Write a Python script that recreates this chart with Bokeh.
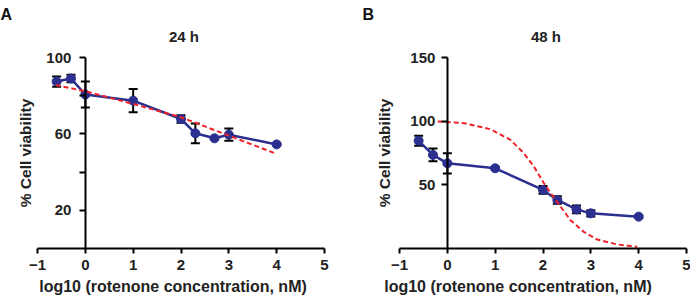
from bokeh.plotting import figure
from bokeh.models import (Range1d, LinearAxis, FixedTicker, ColumnDataSource,
                          Whisker, TeeHead, Label)
from bokeh.layouts import row
from bokeh.embed import file_html
from bokeh.resources import INLINE

# ---------------- data ----------------
log_conc = [-0.6, -0.3, 0, 1, 2, 2.3, 2.7, 3, 4]

viab_24 = [87.4, 89.0, 80.6, 77.4, 67.8, 60.3, 57.7, 59.6, 54.5]
err_24 = [2.7, 2.0, 6.8, 6.1, 2.0, 5.2, 0.8, 3.2, 0.5]
fit_x_24 = [-0.62, 0, 1, 2, 3, 4]
fit_y_24 = [85.6, 82.3, 75.7, 68.7, 59.1, 49.5]

viab_48 = [84.6, 73.5, 66.9, 63.0, 46.0, 38.1, 30.7, 27.6, 25.0]
err_48 = [4.0, 5.0, 8.0, 1.0, 3.0, 3.0, 3.0, 2.5, 1.0]
fit_x_48 = [-0.2, 0.35, 0.9, 1.32, 1.6, 1.81, 2.02, 2.19, 2.37, 2.57, 2.85, 3.13, 3.55, 3.97]
fit_y_48 = [99.8, 98.4, 93.7, 85.3, 74.8, 64.3, 51.2, 42.0, 32.8, 22.4, 13.1, 7.1, 3.2, 1.3]

x_ticks = [-1, 0, 1, 2, 3, 4, 5]
y_ticks_24 = [20, 60, 100]
y_minor_24 = [40, 80]
y_ticks_48 = [50, 100, 150]
y_minor_48 = []

titles = ["24 h", "48 h"]
letters = ["A", "B"]
x_label = "log10 (rotenone concentration, nM)"
y_label = "% Cell viability"

BLUE = "#2B2F8F"
RED = "#EE2229"
FONT = "Liberation Sans"
TXT = "#222222"

W, H = 345, 302
BOTTOM = 54          # px below the x axis line
AX_TOP = 57          # px from top of canvas to the top of the y axis


def style_axis(ax):
    ax.axis_line_width = 2
    ax.axis_line_color = "black"
    ax.major_tick_line_width = 2
    ax.minor_tick_line_width = 2
    ax.major_tick_in = 0
    ax.major_tick_out = 6
    ax.minor_tick_in = 0
    ax.minor_tick_out = 6
    ax.major_label_text_font = FONT
    ax.major_label_text_font_style = "bold"
    ax.major_label_text_font_size = "15px"
    ax.major_label_text_color = TXT
    ax.axis_label_text_font = FONT
    ax.axis_label_text_font_style = "bold"
    ax.axis_label_text_color = TXT


def panel(y, err, fx, fy, ymax, yt, ymin_t, title, letter, left_px, right_px,
          tick_standoff, ylab_standoff):
    xmin, xmax = x_ticks[0], x_ticks[-1]
    # the frame fills the whole figure; axes are bounded to the data region
    ppu_x = (W - left_px - right_px) / (xmax - xmin)
    x0 = xmin - left_px / ppu_x
    x1 = xmax + right_px / ppu_x
    ppu_y = (H - BOTTOM - AX_TOP) / ymax
    y1 = (H - BOTTOM) / ppu_y

    p = figure(width=W, height=H, x_range=Range1d(x0, x1), y_range=Range1d(0, y1),
               output_backend="svg", toolbar_location=None, title=None,
               x_axis_location=None, y_axis_location=None,
               min_border_left=0, min_border_right=0,
               min_border_top=0, min_border_bottom=BOTTOM)
    p.outline_line_color = None
    p.xgrid.visible = False
    p.ygrid.visible = False
    p.background_fill_color = "white"
    p.border_fill_color = "white"

    xa = LinearAxis(ticker=FixedTicker(ticks=x_ticks, minor_ticks=[]),
                    bounds=(xmin, xmax))
    ya = LinearAxis(ticker=FixedTicker(ticks=yt, minor_ticks=ymin_t),
                    fixed_location=0, bounds=(0, ymax))
    for ax in (xa, ya):
        style_axis(ax)

    xa.major_tick_out = 5
    xa.axis_label = x_label
    xa.axis_label_text_font_size = "16px"
    xa.major_label_standoff = 6
    xa.axis_label_standoff = 5

    ya.major_label_standoff = tick_standoff
    ya.axis_label = y_label
    ya.axis_label_text_font_size = "15.5px"
    ya.axis_label_standoff = ylab_standoff

    p.add_layout(xa, "below")
    p.add_layout(ya, "left")

    # panel title and panel letter, placed relative to the top of the y axis
    p.add_layout(Label(x=(xmin + xmax) / 2, y=ymax, x_offset=3, y_offset=21, text=title,
                       text_align="center", text_baseline="alphabetic",
                       text_font=FONT, text_font_style="bold", text_font_size="15px",
                       text_color=TXT))
    p.add_layout(Label(x=xmin, y=ymax, x_offset=-37, y_offset=43, text=letter,
                       text_align="left", text_baseline="alphabetic",
                       text_font=FONT, text_font_style="bold", text_font_size="16px",
                       text_color="#111111"))

    src = ColumnDataSource(dict(x=log_conc, y=y,
                                upper=[a + b for a, b in zip(y, err)],
                                lower=[a - b for a, b in zip(y, err)]))
    w = Whisker(source=src, base="x", upper="upper", lower="lower",
                line_color="black", line_width=2,
                upper_head=TeeHead(size=9, line_width=2, line_color="black"),
                lower_head=TeeHead(size=9, line_width=2, line_color="black"))
    p.add_layout(w)
    p.line("x", "y", source=src, line_color=BLUE, line_width=2.5)
    p.scatter("x", "y", source=src, size=9, marker="circle",
              fill_color=BLUE, line_color=BLUE)
    p.line(fx, fy, line_color=RED, line_width=2, line_dash="5 3")
    return p


pa = panel(viab_24, err_24, fit_x_24, fit_y_24, 100, y_ticks_24, y_minor_24,
           titles[0], letters[0], 37, 21, 8, 9)
pb = panel(viab_48, err_48, fit_x_48, fit_y_48, 150, y_ticks_48, y_minor_48,
           titles[1], letters[1], 54, 4, 6, 14)

layout = row(pa, pb, spacing=0)
open("out.html", "w").write(file_html(layout, INLINE))
